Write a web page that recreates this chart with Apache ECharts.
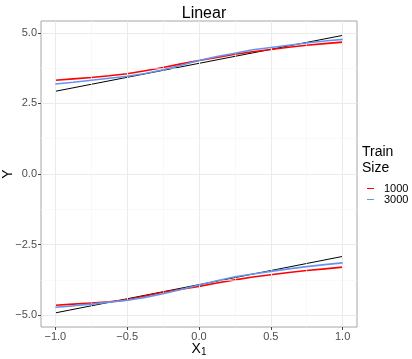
<!DOCTYPE html>
<html><head><meta charset="utf-8">
<script src="https://cdn.jsdelivr.net/npm/echarts@6/dist/echarts.min.js"></script>
<style>html,body{margin:0;padding:0;background:#fff}#c{width:412px;height:359px}</style>
</head><body><div id="c"></div>
<script>
const xs = [-1,-0.875,-0.75,-0.625,-0.5,-0.375,-0.25,-0.125,0,0.125,0.25,0.375,0.5,0.625,0.75,0.875,1];
const topRed1000 = [3.32,3.37,3.42,3.48,3.55,3.66,3.77,3.90,4.02,4.13,4.24,4.33,4.41,4.49,4.56,4.62,4.67];
const topBlue3000 = [3.19,3.25,3.32,3.39,3.46,3.56,3.69,3.85,4.02,4.16,4.28,4.40,4.48,4.56,4.64,4.71,4.77];
const botRed1000 = [-4.65,-4.61,-4.57,-4.53,-4.46,-4.32,-4.19,-4.08,-3.98,-3.86,-3.75,-3.65,-3.57,-3.49,-3.42,-3.36,-3.30];
const botBlue3000 = [-4.72,-4.67,-4.61,-4.54,-4.47,-4.37,-4.24,-4.09,-3.93,-3.78,-3.64,-3.54,-3.45,-3.36,-3.28,-3.21,-3.15];
const trueX = [-1, 1];
const trueTop = [2.93, 4.91];
const trueBot = [-4.92, -2.92];
const xTicks = [-1, -0.5, 0, 0.5, 1];
const xMinor = [-0.75, -0.25, 0.25, 0.75];
const yTicks = [-5, -2.5, 0, 2.5, 5];
const yMinor = [-3.75, -1.25, 1.25, 3.75];
const legendNames = ['1000', '3000'];

const FONT = 'Liberation Sans';
const fmt = v => { const s = Math.abs(v).toFixed(1); return v < 0 ? '\u2212' + s : s; };
const pairs = (a, b) => a.map((x, i) => [x, b[i]]);

const chart = echarts.init(document.getElementById('c'), null, {renderer: 'canvas'});
const gridLines = [];
xMinor.forEach(v => gridLines.push({xAxis: v, lineStyle: {color: '#f5f5f5', width: 0.6, type: 'solid'}}));
yMinor.forEach(v => gridLines.push({yAxis: v, lineStyle: {color: '#f5f5f5', width: 0.6, type: 'solid'}}));
xTicks.forEach(v => gridLines.push({xAxis: v, lineStyle: {color: '#ebebeb', width: 1, type: 'solid'}}));
yTicks.forEach(v => gridLines.push({yAxis: v, lineStyle: {color: '#ebebeb', width: 1, type: 'solid'}}));

const lineSeries = (name, data, color, width, z) => ({
  type: 'line', name, data, symbol: 'none', z, silent: true,
  lineStyle: {color, width}, itemStyle: {color}, animation: false
});

chart.setOption({
  animation: false,
  title: {text: 'Linear', left: 199, top: 1, textAlign: 'center',
    textStyle: {fontFamily: FONT, fontSize: 16, fontWeight: 'normal', color: '#000'}},
  grid: {left: 41, right: 55, top: 21, bottom: 32, show: true, borderColor: '#a6a6a6', borderWidth: 1,
    backgroundColor: '#fff', containLabel: false, outerBoundsMode: 'none'},
  xAxis: {type: 'value', min: -1.1, max: 1.1,
    axisLine: {show: false, onZero: false}, splitLine: {show: false},
    axisTick: {show: true, customValues: xTicks, length: 3, lineStyle: {color: '#444'}},
    axisLabel: {customValues: xTicks, formatter: fmt, color: '#4d4d4d', fontSize: 11, fontFamily: FONT, margin: 4},
    name: 'X{sub|1}', nameLocation: 'middle', nameGap: 15, nameMoveOverlap: false,
    nameTextStyle: {fontFamily: FONT, fontSize: 14, color: '#000',
      rich: {sub: {fontFamily: FONT, fontSize: 10, color: '#000', verticalAlign: 'bottom', padding: [5,0,0,0]}}}},
  yAxis: {type: 'value', min: -5.42, max: 5.42,
    axisLine: {show: false, onZero: false}, splitLine: {show: false},
    axisTick: {show: true, customValues: yTicks, length: 3, lineStyle: {color: '#444'}},
    axisLabel: {customValues: yTicks, formatter: fmt, color: '#4d4d4d', fontSize: 11, fontFamily: FONT, margin: 4},
    name: 'Y', nameLocation: 'middle', nameGap: 26, nameRotate: 90, nameMoveOverlap: false,
    nameTextStyle: {fontFamily: FONT, fontSize: 14, color: '#000'}},
  legend: {data: legendNames, orient: 'vertical', left: 362, top: 178, itemWidth: 7, itemHeight: 1, itemGap: 0,
    icon: 'rect', textStyle: {fontFamily: FONT, fontSize: 11, lineHeight: 11, color: '#000', padding: [0,0,0,5]}, selectedMode: false},
  graphic: [
    {type: 'text', left: 362, top: 144, style: {text: 'Train\nSize', fontFamily: FONT, fontSize: 14, lineHeight: 16, fill: '#000'}}
  ],
  series: [
    {type: 'line', data: [], markLine: {silent: true, symbol: 'none', label: {show: false}, data: gridLines, animation: false}, z: 0},
    lineSeries('true', pairs(trueX, trueTop), '#000', 1, 3),
    lineSeries('true', pairs(trueX, trueBot), '#000', 1, 3),
    lineSeries('1000', pairs(xs, topRed1000), '#ff0000', 1.6, 4),
    lineSeries('1000', pairs(xs, botRed1000), '#ff0000', 1.6, 4),
    lineSeries('3000', pairs(xs, topBlue3000), '#6495ed', 1.6, 5),
    lineSeries('3000', pairs(xs, botBlue3000), '#6495ed', 1.6, 5)
  ]
});
</script></body></html>
